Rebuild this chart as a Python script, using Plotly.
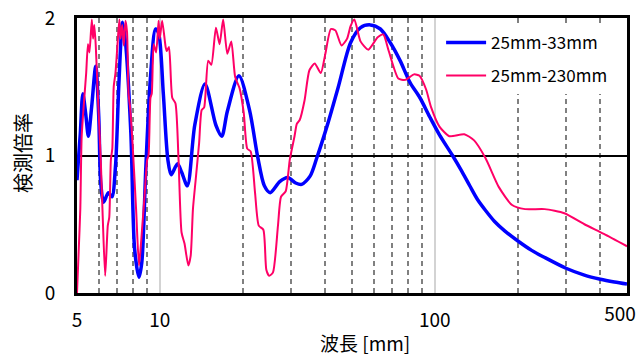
import plotly.graph_objects as go

# Data: wavelength [mm] vs detection magnification
blue_wl = [5.0, 5.14, 5.25, 5.38, 5.5, 5.65, 5.85, 6.0, 6.1, 6.25, 6.5, 6.7, 6.9, 7.1, 7.32,
           7.5, 7.85, 8.1, 8.4, 8.6, 8.9, 9.25, 9.65, 9.9, 10.3, 10.7, 11.0, 11.6, 12.0, 12.6,
           13.4, 14.6, 16.0, 16.8, 17.6, 19.4, 21.2, 22.7, 24.0, 25.2, 27.3, 29.2, 31.2, 32.8,
           35.2, 37.2, 40.8, 44.6, 49.4, 53.7, 58.3, 63.4, 68.9, 74.8, 81.3, 88.3, 95.9, 104,
           116, 125, 134, 143, 153, 165, 180, 200, 225, 250, 300, 350, 400, 450, 500]
blue_val = [0.82, 1.16, 1.45, 1.30, 1.14, 1.35, 1.65, 1.28, 0.80, 0.66, 0.73, 0.70, 0.92, 1.52, 1.97,
            1.83, 1.16, 0.32, 0.115, 0.22, 0.92, 1.57, 1.92, 1.89, 1.45, 0.97, 0.86, 0.94, 0.88, 0.78,
            1.22, 1.52, 1.22, 1.14, 1.32, 1.58, 1.33, 0.99, 0.78, 0.73, 0.81, 0.84, 0.80, 0.79,
            0.85, 0.98, 1.23, 1.50, 1.82, 1.93, 1.95, 1.92, 1.82, 1.69, 1.53, 1.42, 1.28, 1.15,
            1.0, 0.89, 0.78, 0.68, 0.60, 0.52, 0.45, 0.38, 0.31, 0.26, 0.18, 0.13, 0.10, 0.08, 0.065]

red_wl = [5.0, 5.07, 5.14, 5.2, 5.33, 5.4, 5.48, 5.55, 5.66, 5.72, 5.78, 5.85, 5.95, 6.1, 6.2,
          6.33, 6.47, 6.55, 6.64, 6.72, 6.8, 6.9, 7.03, 7.13, 7.2, 7.3, 7.4, 7.5, 7.6, 7.7,
          7.8, 7.96, 8.2, 8.4, 8.5, 8.64, 8.8, 9.0, 9.1, 9.25, 9.35, 9.5, 9.7, 9.9, 10.0,
          10.2, 10.5, 10.6, 10.8, 11.1, 11.4, 11.7, 12.0, 12.3, 12.7, 12.95, 13.2, 13.5, 13.9,
          14.2, 14.5, 15.0, 15.4, 16.0, 16.5, 17.0, 17.6, 18.2, 18.8, 19.5, 20.2, 20.8, 21.4,
          22.2, 22.9, 23.8, 24.4, 25.0, 25.8, 26.9, 27.6, 28.7, 29.7, 30.9, 31.5, 32.3, 33.6,
          35.0, 36.6, 38.5, 40.0, 41.9, 43.5, 45.8, 48.0, 49.4, 51.0, 53.7, 57.3, 62.0, 65.0,
          68.0, 73.7, 78.0, 84.0, 88.0, 93.0, 97.0, 104, 113, 128, 139, 153, 171, 191, 213,
          251, 296, 350, 412, 500]
red_val = [0.0, 0.3, 0.61, 1.14, 1.45, 1.6, 1.81, 1.75, 1.99, 1.85, 1.95, 1.8, 1.45, 0.97, 0.56,
           0.125, 0.49, 0.55, 0.97, 1.05, 1.5, 1.6, 1.83, 1.99, 1.85, 1.95, 1.8, 1.98, 1.9, 1.45,
           1.35, 1.09, 0.61, 0.2, 0.3, 0.49, 0.7, 0.97, 1.0, 1.42, 1.45, 1.81, 1.75, 1.98, 1.85,
           1.98, 1.79, 1.76, 1.79, 1.42, 1.38, 0.97, 0.44, 0.36, 0.2, 0.27, 0.61, 0.82, 1.09,
           1.33, 1.35, 1.69, 1.66, 1.93, 1.81, 1.99, 1.74, 1.83, 1.57, 1.49, 1.31, 1.05, 1.03,
           0.73, 0.49, 0.46, 0.17, 0.125, 0.15, 0.49, 0.70, 0.74, 0.97, 1.14, 1.23, 1.26, 1.40,
           1.62, 1.67, 1.60, 1.74, 1.92, 1.91, 1.80, 1.85, 1.94, 1.99, 1.83, 1.77, 1.86, 1.88,
           1.76, 1.56, 1.55, 1.59, 1.58, 1.48, 1.35, 1.21, 1.14, 1.155, 1.11, 0.98, 0.77, 0.64, 0.61,
           0.61, 0.58, 0.50, 0.43, 0.34]

series_names = ["25mm-33mm", "25mm-230mm"]
x_tickvals = [5, 10, 100]
x_ticktext = ["5", "10", "100"]
x_end_tickvals = [500]
x_end_ticktext = ["500"]
x_minor_vals = [6, 7, 8, 9, 20, 30, 40, 50, 60, 70, 80, 90, 200, 300, 400]
y_tickvals = [0, 1, 2]
x_title = "波長 [mm]"
y_title = "検測倍率"

FONT = "Noto Sans CJK JP"
XRANGE = [0.69897, 2.69897]

fig = go.Figure()
fig.add_trace(go.Scatter(x=blue_wl, y=blue_val, mode="lines", name=series_names[0],
                         line=dict(color="#0000FF", width=3.5, shape="spline", smoothing=0.8),
                         legendgroup="a", xaxis="x", yaxis="y"))
fig.add_trace(go.Scatter(x=red_wl, y=red_val, mode="lines", name=series_names[1],
                         line=dict(color="#FF0066", width=2, shape="spline", smoothing=0.6),
                         legendgroup="b", xaxis="x2", yaxis="y"))

fig.update_layout(
    width=641, height=357,
    margin=dict(l=77, r=14, t=18, b=64, autoexpand=False),
    paper_bgcolor="white", plot_bgcolor="white",
    font=dict(family=FONT, size=19, color="black"),
    showlegend=True,
    legend=dict(x=0.662, y=0.975, xanchor="left", yanchor="top", bgcolor="white",
                borderwidth=0, font=dict(size=17, family=FONT), tracegroupgap=8,
                itemwidth=40),
    xaxis=dict(type="log", range=XRANGE, tickvals=x_tickvals, ticktext=x_ticktext,
               automargin=False, ticklabeloverflow="allow",
               showgrid=True, gridcolor="#d3d3d3", gridwidth=1.5,
               minor=dict(tickmode="array", tickvals=x_minor_vals, showgrid=True,
                          gridcolor="#808080", gridwidth=1.5, griddash="5px,4px", ticks=""),
               showline=True, linecolor="black", linewidth=3, mirror=True,
               ticks="", ticklabelstandoff=8, zeroline=False),
    xaxis2=dict(type="log", range=XRANGE, overlaying="x", side="bottom", anchor="y",
                tickvals=x_end_tickvals, ticktext=x_end_ticktext,
                automargin=False, ticklabeloverflow="allow", ticklabelshift=-7,
                showgrid=False, showline=False, ticks="", ticklabelstandoff=8, zeroline=False),
    yaxis=dict(range=[0, 2], tickvals=y_tickvals, showgrid=True, gridcolor="black", gridwidth=1.5,
               automargin=False, ticklabeloverflow="allow",
               showline=True, linecolor="black", linewidth=3, mirror=True,
               ticks="", ticklabelstandoff=15, zeroline=False),
    annotations=[
        dict(text=x_title, xref="paper", yref="paper", x=0.523, y=-0.18, showarrow=False,
             xanchor="center", yanchor="middle", font=dict(size=19, family=FONT)),
        dict(text=y_title, xref="paper", yref="paper", x=-0.1, y=0.509, showarrow=False,
             textangle=-90, xanchor="center", yanchor="middle", font=dict(size=20, family=FONT)),
    ],
)

fig.write_html("out.html")
